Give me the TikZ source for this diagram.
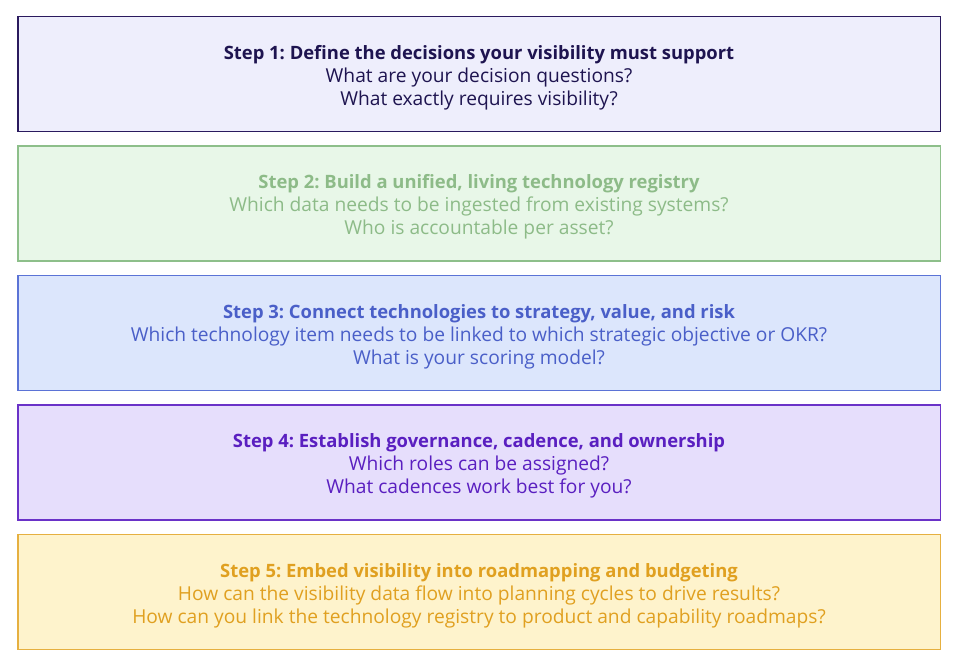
\documentclass[tikz,border=0pt]{standalone}
\usepackage{fontspec}
\setmainfont{Open Sans}
\usetikzlibrary{positioning}
\frenchspacing
\definecolor{fillA}{HTML}{EEEEFC}
\definecolor{lineA}{HTML}{2A1A5E}
\definecolor{textA}{HTML}{1E1450}
\definecolor{fillB}{HTML}{E8F7E8}
\definecolor{lineB}{HTML}{8DBF8A}
\definecolor{textB}{HTML}{8DBB88}
\definecolor{fillC}{HTML}{DCE6FC}
\definecolor{lineC}{HTML}{5B73D6}
\definecolor{textC}{HTML}{4A5FC8}
\definecolor{fillD}{HTML}{E6DEFC}
\definecolor{lineD}{HTML}{6A32C8}
\definecolor{textD}{HTML}{5A1FC0}
\definecolor{fillE}{HTML}{FEF3CC}
\definecolor{lineE}{HTML}{E6B040}
\definecolor{textE}{HTML}{E0A020}
\newcommand{\steptitle}[1]{{\fontsize{18.4}{23}\selectfont\bfseries #1}}

\begin{document}
\begin{tikzpicture}[x=1pt,y=-1pt,node distance=13pt,
  stepbox/.style={draw, line width=1.5pt, minimum width=922.5pt, minimum height=115pt, inner sep=0pt},
  steptext/.style={align=center, inner sep=0pt, font=\fontsize{19.2}{23}\selectfont}]

	\useasboundingbox (0,0) rectangle (959,665);
	% boxes
	\node[stepbox, fill=fillA, draw=lineA] (s1) at (479,74) {};
	\node[stepbox, fill=fillB, draw=lineB, below=of s1] (s2) {};
	\node[stepbox, fill=fillC, draw=lineC, below=of s2] (s3) {};
	\node[stepbox, fill=fillD, draw=lineD, below=of s3] (s4) {};
	\node[stepbox, fill=fillE, draw=lineE, below=of s4] (s5) {};
	% texts
	\node[steptext, text=textA] (t1) at ([yshift=-3.5pt]s1.center)
		{\steptitle{Step 1: Define the decisions your visibility must support}\\
		 What are your decision questions?\\
		 What exactly requires visibility?};
	\node[steptext, text=textB] (t2) at ([yshift=-3.5pt]s2.center)
		{\steptitle{Step 2: Build a unified, living technology registry}\\
		 Which data needs to be ingested from existing systems?\\
		 Who is accountable per asset?};
	\node[steptext, text=textC] (t3) at ([yshift=-3.5pt]s3.center)
		{\steptitle{Step 3: Connect technologies to strategy, value, and risk}\\
		 Which technology item needs to be linked to which strategic objective or OKR?\\
		 What is your scoring model?};
	\node[steptext, text=textD] (t4) at ([yshift=-3.5pt]s4.center)
		{\steptitle{Step 4: Establish governance, cadence, and ownership}\\
		 Which roles can be assigned?\\
		 What cadences work best for you?};
	\node[steptext, text=textE] (t5) at ([yshift=-3.5pt]s5.center)
		{\steptitle{Step 5: Embed visibility into roadmapping and budgeting}\\
		 How can the visibility data flow into planning cycles to drive results?\\
		 How can you link the technology registry to product and capability roadmaps?};
\end{tikzpicture}
\end{document}
